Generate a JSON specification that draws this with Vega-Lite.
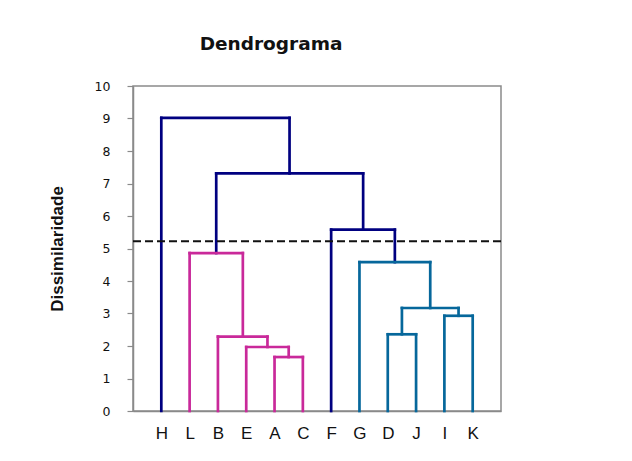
{
  "$schema": "https://vega.github.io/schema/vega-lite/v6.json",
  "autosize": {"type": "none"},
  "padding": {"left": 133, "top": 86, "right": 131, "bottom": 50},
  "width": 368,
  "height": 325,
  "background": "white",
  "title": {
    "text": "Dendrograma",
    "font": "DejaVu Sans",
    "fontSize": 18.5,
    "fontWeight": "bold",
    "color": "#111",
    "anchor": "middle",
    "dx": -46,
    "offset": 27
  },
  "config": {
    "view": {"stroke": "#8a8a8a", "strokeWidth": 1.5}
  },
  "datasets": {
    "segmentos": [
      {"x": 1, "x2": 1, "y": 0, "y2": 9.02, "g": "n"},
      {"x": 1, "x2": 5.53, "y": 9.02, "y2": 9.02, "g": "n"},
      {"x": 5.53, "x2": 5.53, "y": 7.31, "y2": 9.02, "g": "n"},
      {"x": 2.94, "x2": 8.13, "y": 7.31, "y2": 7.31, "g": "n"},
      {"x": 2.94, "x2": 2.94, "y": 4.86, "y2": 7.31, "g": "n"},
      {"x": 8.13, "x2": 8.13, "y": 5.58, "y2": 7.31, "g": "n"},
      {"x": 7, "x2": 9.25, "y": 5.58, "y2": 5.58, "g": "n"},
      {"x": 7, "x2": 7, "y": 0, "y2": 5.58, "g": "n"},
      {"x": 9.25, "x2": 9.25, "y": 4.58, "y2": 5.58, "g": "n"},
      {"x": 2, "x2": 2, "y": 0, "y2": 4.86, "g": "p"},
      {"x": 2, "x2": 3.88, "y": 4.86, "y2": 4.86, "g": "p"},
      {"x": 3.88, "x2": 3.88, "y": 2.29, "y2": 4.86, "g": "p"},
      {"x": 3, "x2": 4.75, "y": 2.29, "y2": 2.29, "g": "p"},
      {"x": 3, "x2": 3, "y": 0, "y2": 2.29, "g": "p"},
      {"x": 4.75, "x2": 4.75, "y": 1.97, "y2": 2.29, "g": "p"},
      {"x": 4, "x2": 5.5, "y": 1.97, "y2": 1.97, "g": "p"},
      {"x": 4, "x2": 4, "y": 0, "y2": 1.97, "g": "p"},
      {"x": 5.5, "x2": 5.5, "y": 1.66, "y2": 1.97, "g": "p"},
      {"x": 5, "x2": 6, "y": 1.66, "y2": 1.66, "g": "p"},
      {"x": 5, "x2": 5, "y": 0, "y2": 1.66, "g": "p"},
      {"x": 6, "x2": 6, "y": 0, "y2": 1.66, "g": "p"},
      {"x": 8, "x2": 8, "y": 0, "y2": 4.58, "g": "t"},
      {"x": 8, "x2": 10.5, "y": 4.58, "y2": 4.58, "g": "t"},
      {"x": 10.5, "x2": 10.5, "y": 3.17, "y2": 4.58, "g": "t"},
      {"x": 9.5, "x2": 11.5, "y": 3.17, "y2": 3.17, "g": "t"},
      {"x": 9.5, "x2": 9.5, "y": 2.36, "y2": 3.17, "g": "t"},
      {"x": 9, "x2": 10, "y": 2.36, "y2": 2.36, "g": "t"},
      {"x": 9, "x2": 9, "y": 0, "y2": 2.36, "g": "t"},
      {"x": 10, "x2": 10, "y": 0, "y2": 2.36, "g": "t"},
      {"x": 11.5, "x2": 11.5, "y": 2.93, "y2": 3.17, "g": "t"},
      {"x": 11, "x2": 12, "y": 2.93, "y2": 2.93, "g": "t"},
      {"x": 11, "x2": 11, "y": 0, "y2": 2.93, "g": "t"},
      {"x": 12, "x2": 12, "y": 0, "y2": 2.93, "g": "t"}
    ],
    "corte": [{"y": 5.22}]
  },
  "encoding": {
    "y": {
      "field": "y",
      "type": "quantitative",
      "scale": {"domain": [0, 10], "nice": false},
      "axis": {
        "values": [0, 1, 2, 3, 4, 5, 6, 7, 8, 9, 10],
        "tickCount": 11,
        "labelOverlap": false,
        "grid": false,
        "tickSize": 6,
        "tickColor": "#8a8a8a",
        "tickWidth": 1.2,
        "domainColor": "#8a8a8a",
        "domainWidth": 1.5,
        "labelFont": "DejaVu Sans",
        "labelFontSize": 12.5,
        "labelColor": "#111",
        "labelPadding": 17,
        "title": "Dissimilaridade",
        "titleFont": "Liberation Sans",
        "titleFontSize": 17,
        "titleFontWeight": "bold",
        "titleColor": "#111",
        "titlePadding": 28
      }
    }
  },
  "layer": [
    {
      "data": {"name": "segmentos"},
      "mark": {"type": "rule", "strokeWidth": 2.7, "strokeCap": "square"},
      "encoding": {
        "x": {
          "field": "x",
          "type": "quantitative",
          "scale": {"domain": [0, 13], "nice": false, "zero": false},
          "axis": {
            "values": [1, 2, 3, 4, 5, 6, 7, 8, 9, 10, 11, 12],
            "labelExpr": "['','H','L','B','E','A','C','F','G','D','J','I','K'][datum.value]",
            "labelOverlap": false,
            "ticks": false,
            "grid": false,
            "title": null,
            "domainColor": "#8a8a8a",
            "domainWidth": 1.5,
            "labelFont": "Liberation Sans",
            "labelFontSize": 17,
            "labelColor": "#111",
            "labelPadding": 14
          }
        },
        "x2": {"field": "x2"},
        "y2": {"field": "y2"},
        "color": {
          "field": "g",
          "type": "nominal",
          "scale": {"domain": ["n", "p", "t"], "range": ["#000080", "#C9299A", "#06679B"]},
          "legend": null
        }
      }
    },
    {
      "data": {"name": "corte"},
      "mark": {"type": "rule", "strokeWidth": 2, "strokeDash": [8, 4], "color": "#111"},
      "encoding": {}
    }
  ]
}
